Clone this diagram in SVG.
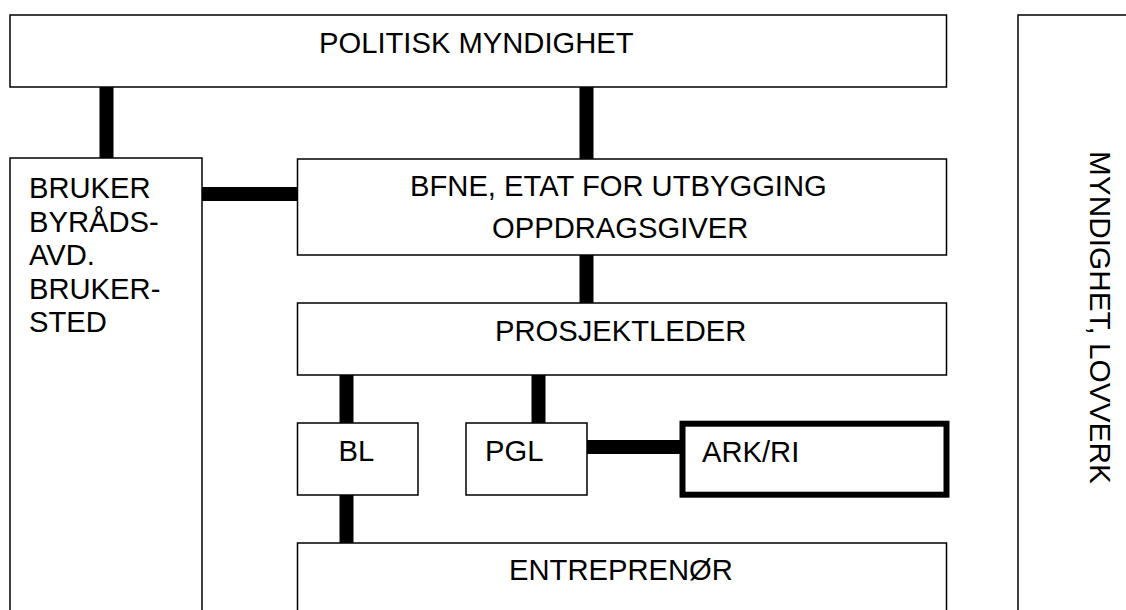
<svg xmlns="http://www.w3.org/2000/svg" width="1126" height="610" viewBox="0 0 1126 610">
<style>
.box{fill:#fff;stroke:#000;stroke-width:1.5}
.thick{fill:#fff;stroke:#000;stroke-width:6}
.lbl{font-family:"Liberation Sans",Arial,sans-serif;font-size:29.2px;fill:#000}
.conn line{stroke:#000;stroke-width:14}
</style>
<rect width="1126" height="610" fill="#fff"/>
<g id="connectors" class="conn">
<line x1="106.5" y1="87" x2="106.5" y2="158"/>
<line x1="202" y1="194" x2="297.5" y2="194"/>
<line x1="586.5" y1="87" x2="586.5" y2="159"/>
<line x1="586.5" y1="255" x2="586.5" y2="303"/>
<line x1="346.5" y1="375" x2="346.5" y2="423"/>
<line x1="346.5" y1="495" x2="346.5" y2="543"/>
<line x1="538.5" y1="375" x2="538.5" y2="423"/>
<line x1="587" y1="447" x2="680" y2="447"/>
</g>
<g id="politisk">
<rect class="box" x="10" y="15" width="936.5" height="72"/>
<text class="lbl" x="319" y="53">POLITISK MYNDIGHET</text>
</g>
<g id="bruker">
<rect class="box" x="10" y="158" width="192" height="470"/>
<text class="lbl" x="29" y="198">BRUKER</text>
<text class="lbl" x="29" y="231.5">BYRÅDS-</text>
<text class="lbl" x="29" y="265">AVD.</text>
<text class="lbl" x="29" y="298.5">BRUKER-</text>
<text class="lbl" x="29" y="332">STED</text>
</g>
<g id="myndighet">
<rect class="box" x="1018" y="15" width="200" height="620"/>
<text class="lbl" style="font-size:29.8px" transform="translate(1090,151) rotate(90)">MYNDIGHET, LOVVERK</text>
</g>
<g id="bfne">
<rect class="box" x="297.5" y="159" width="649" height="96"/>
<text class="lbl" x="410" y="196">BFNE, ETAT FOR UTBYGGING</text>
<text class="lbl" x="492" y="238">OPPDRAGSGIVER</text>
</g>
<g id="prosjektleder">
<rect class="box" x="297.5" y="303" width="649" height="72"/>
<text class="lbl" x="495" y="340.5">PROSJEKTLEDER</text>
</g>
<g id="bl">
<rect class="box" x="297.5" y="423" width="120.5" height="72"/>
<text class="lbl" x="338.5" y="461">BL</text>
</g>
<g id="pgl">
<rect class="box" x="466" y="423" width="121" height="72"/>
<text class="lbl" x="485" y="461">PGL</text>
</g>
<g id="arkri">
<rect class="thick" x="682.5" y="423.7" width="264" height="71"/>
<text class="lbl" x="702" y="461.5">ARK/RI</text>
</g>
<g id="entreprenor">
<rect class="box" x="297.5" y="543" width="649" height="100"/>
<text class="lbl" x="509" y="580">ENTREPRENØR</text>
</g>
</svg>
